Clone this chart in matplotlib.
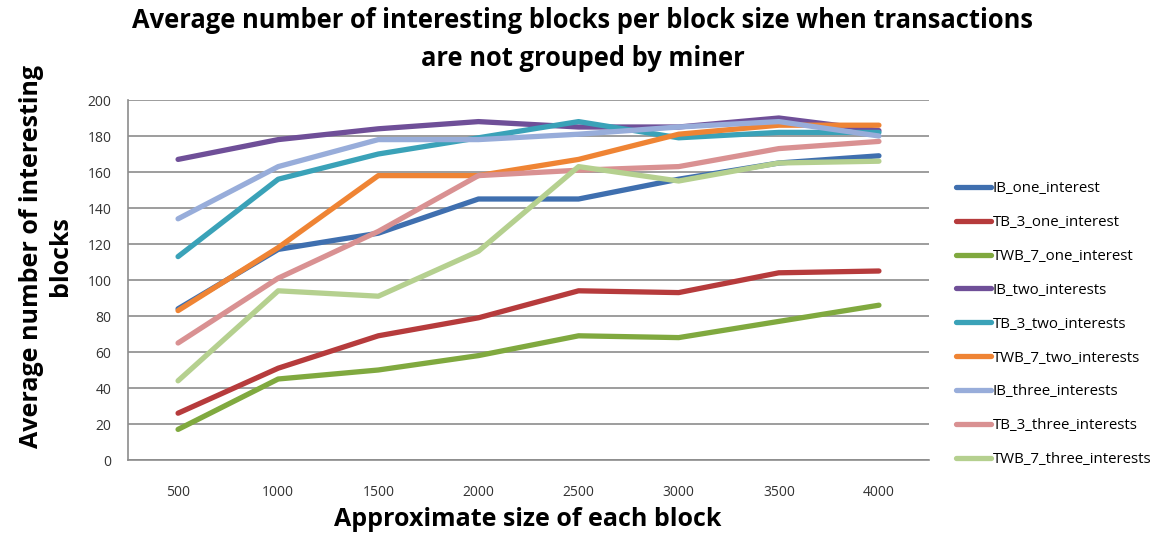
import matplotlib.pyplot as plt

plt.rcParams['font.family'] = ['Open Sans', 'DejaVu Sans']

block_sizes = ['500', '1000', '1500', '2000', '2500', '3000', '3500', '4000']

ib_one = [84, 117, 126, 145, 145, 156, 165, 169]
tb3_one = [26, 51, 69, 79, 94, 93, 104, 105]
twb7_one = [17, 45, 50, 58, 69, 68, 77, 86]
ib_two = [167, 178, 184, 188, 185, 185, 190, 183]
tb3_two = [113, 156, 170, 179, 188, 179, 182, 182]
twb7_two = [83, 118, 158, 158, 167, 181, 186, 186]
ib_three = [134, 163, 178, 178, 181, 185, 188, 180]
tb3_three = [65, 101, 127, 158, 161, 163, 173, 177]
twb7_three = [44, 94, 91, 116, 163, 155, 165, 166]

series = [
    ('IB_one_interest', ib_one, '#3F6FAF'),
    ('TB_3_one_interest', tb3_one, '#B63B3C'),
    ('TWB_7_one_interest', twb7_one, '#80A93F'),
    ('IB_two_interests', ib_two, '#6F4F98'),
    ('TB_3_two_interests', tb3_two, '#3AA2B8'),
    ('TWB_7_two_interests', twb7_two, '#EF8434'),
    ('IB_three_interests', ib_three, '#98ADDA'),
    ('TB_3_three_interests', tb3_three, '#D99192'),
    ('TWB_7_three_interests', twb7_three, '#B5D08F'),
]


def main():
    fig = plt.figure(figsize=(11.65, 5.39), dpi=100)
    ax = fig.add_axes([128 / 1165, 1 - 460 / 539, 801 / 1165, 360 / 539])

    x = range(len(block_sizes))
    for name, vals, col in series:
        ax.plot(x, vals, color=col, lw=3.8, label=name,
                solid_capstyle='round', solid_joinstyle='round')

    ax.set_xlim(-0.5, len(block_sizes) - 0.5)
    ax.set_ylim(0, 200)
    ax.set_yticks(range(0, 201, 20))
    ax.set_xticks(list(x))
    ax.set_xticklabels(block_sizes)
    ax.yaxis.grid(True, color='#8c8c8c', lw=1.2)
    ax.set_axisbelow(True)
    for s in ['top', 'right']:
        ax.spines[s].set_visible(False)
    for s in ['left', 'bottom']:
        ax.spines[s].set_color('#8c8c8c')
        ax.spines[s].set_linewidth(1.2)
    ax.tick_params(axis='both', length=0, labelsize=10, colors='#333333')
    ax.tick_params(axis='y', pad=12)
    ax.tick_params(axis='x', pad=18)

    fig.text(583 / 1165, 1 - 21 / 539,
             'Average number of interesting blocks per block size when transactions',
             ha='center', va='center', fontsize=18.4, fontweight='bold')
    fig.text(583 / 1165, 1 - 59 / 539, 'are not grouped by miner',
             ha='center', va='center', fontsize=18.4, fontweight='bold')
    fig.text(528 / 1165, 1 - 520 / 539, 'Approximate size of each block',
             ha='center', va='center', fontsize=18, fontweight='bold')
    fig.text(46 / 1165, 1 - 256 / 539, 'Average number of interesting\nblocks',
             ha='center', va='center', rotation=90, fontsize=18,
             fontweight='bold', linespacing=1.25)

    ax.legend(loc='upper left',
              bbox_to_anchor=((950 - 128) / 801, (460 - 175) / 360),
              frameon=False, fontsize=10.8, handlelength=2.35, handletextpad=0.1,
              labelspacing=1.26, borderaxespad=0)

    fig.savefig('out.png', dpi=100)


if __name__ == '__main__':
    main()
